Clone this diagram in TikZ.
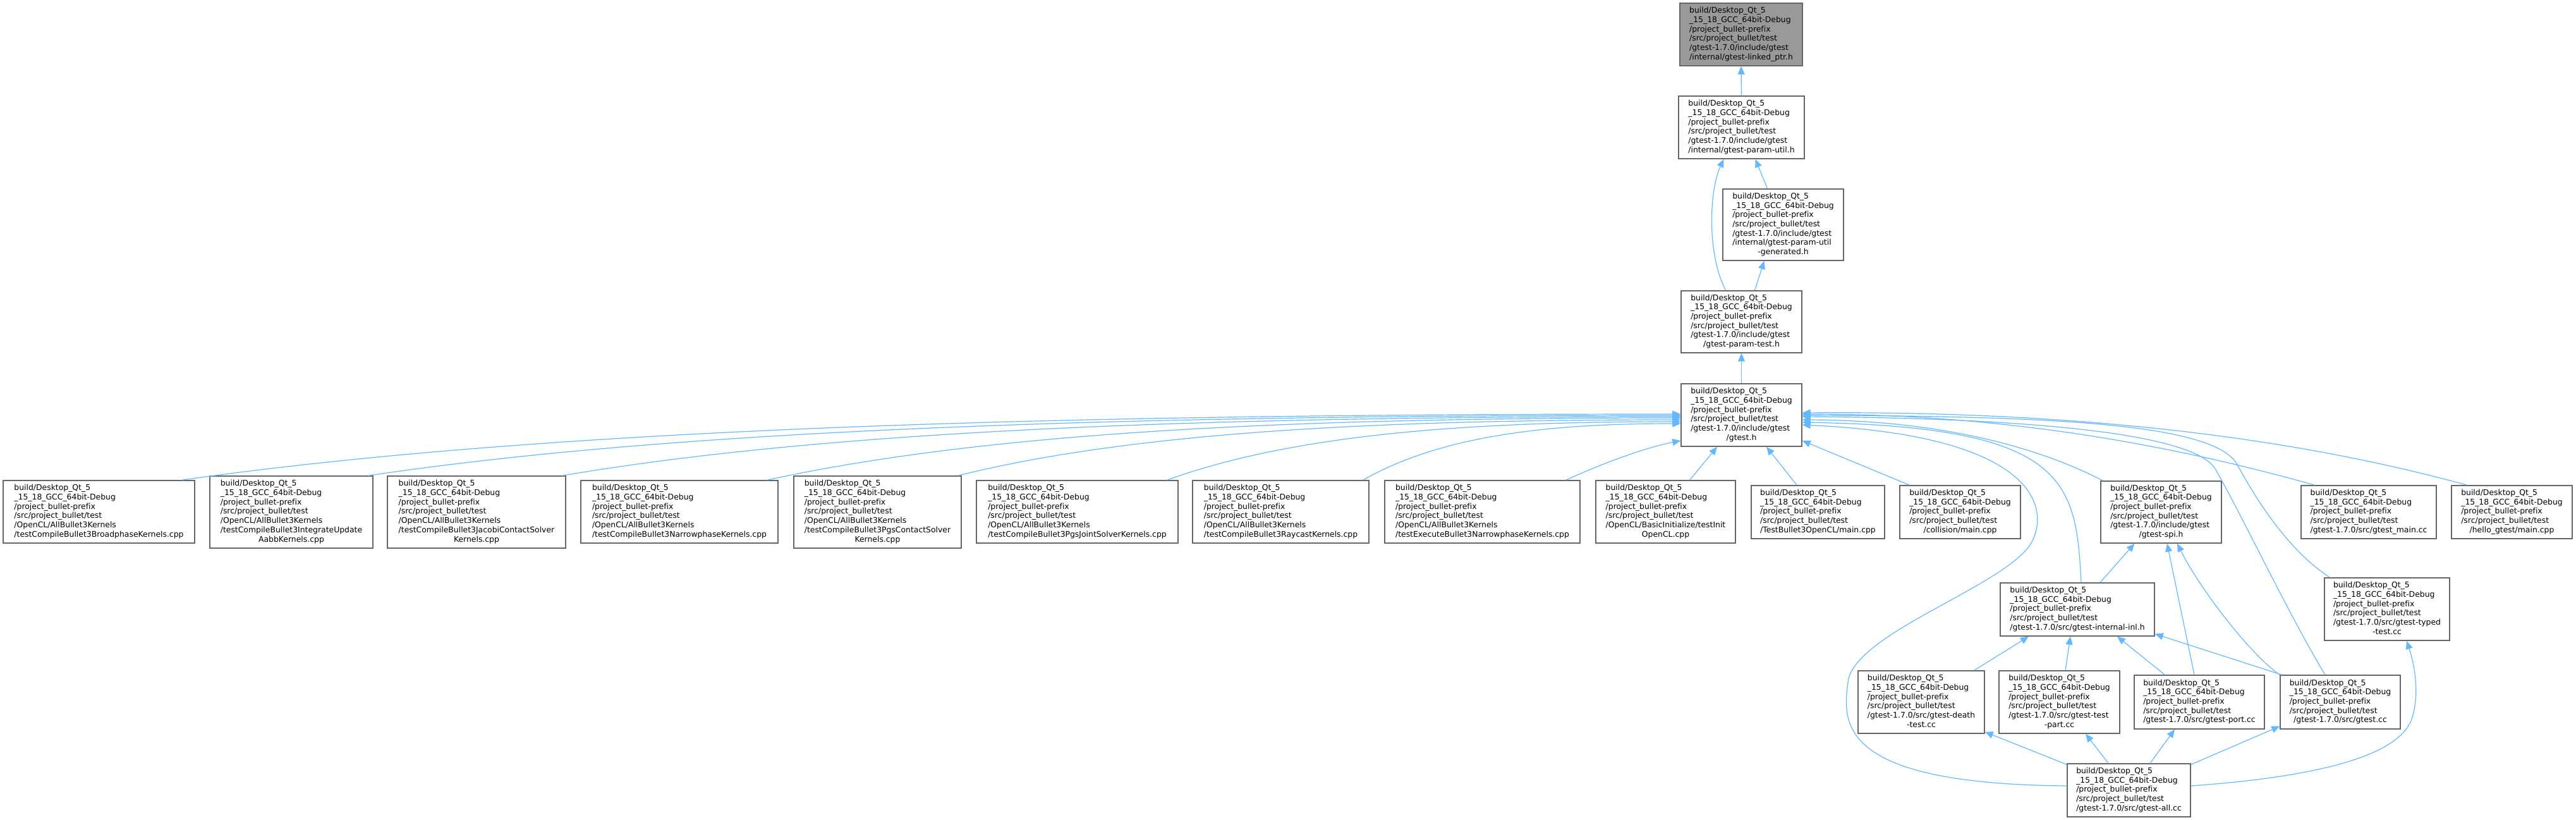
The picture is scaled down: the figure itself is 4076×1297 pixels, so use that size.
\documentclass[tikz,border=0pt]{standalone}
\usepackage{fontspec}
\setmainfont{DejaVu Sans}[Ligatures=CommonOff]
\usetikzlibrary{arrows.meta}
\definecolor{edgeblue}{HTML}{63B8FF}
\definecolor{boxgray}{HTML}{666666}
\definecolor{topgray}{HTML}{999999}
\newcommand\pfx{build/Desktop\_Qt\_5\\\_15\_18\_GCC\_64bit-Debug\\/project\_bullet-prefix\\/src/project\_bullet/test}
\newcommand\fl[2]{\begin{tabular}{@{}l@{}}#1\\\multicolumn{1}{@{}c@{}}{#2}\end{tabular}}
\newcommand\nodefont{\fontsize{12.4pt}{14.7pt}\selectfont}
\begin{document}
\begin{tikzpicture}[x=1pt,y=-1pt,
  box/.style={draw=boxgray,line width=1.4pt,fill=white,inner sep=0pt,font=\nodefont,text=black},
  edge/.style={draw=edgeblue,line width=1.2pt,-{Triangle[length=13pt,width=11pt]}}]
\fill[white] (0,0) rectangle (4076,1297);
\useasboundingbox (0,0) rectangle (4076,1297);

% upper chain
\node[box,fill=topgray,minimum width=194pt,minimum height=99pt] (n0) at (2755,54.5) {\fl{\pfx\\/gtest-1.7.0/include/gtest}{/internal/gtest-linked\_ptr.h}};
\node[box,minimum width=199pt,minimum height=99pt] (n1) at (2755.5,201.5) {\fl{\pfx\\/gtest-1.7.0/include/gtest}{/internal/gtest-param-util.h}};
\node[box,minimum width=191pt,minimum height=113pt] (n2) at (2821.5,355.5) {\fl{\pfx\\/gtest-1.7.0/include/gtest\\/internal/gtest-param-util}{-generated.h}};
\node[box,minimum width=191pt,minimum height=98pt] (n3) at (2755.5,509) {\fl{\pfx\\/gtest-1.7.0/include/gtest}{/gtest-param-test.h}};
\node[box,minimum width=191pt,minimum height=99pt] (n4) at (2755.5,656.5) {\fl{\pfx\\/gtest-1.7.0/include/gtest}{/gtest.h}};

% row of includers
\node[box,minimum width=303pt,minimum height=99pt] (b1) at (156.5,809.5) {\fl{\pfx\\/OpenCL/AllBullet3Kernels}{/testCompileBullet3BroadphaseKernels.cpp}};
\node[box,minimum width=258pt,minimum height=114pt] (b2) at (461,810) {\fl{\pfx\\/OpenCL/AllBullet3Kernels\\/testCompileBullet3IntegrateUpdate}{AabbKernels.cpp}};
\node[box,minimum width=282pt,minimum height=114pt] (b3) at (754,810) {\fl{\pfx\\/OpenCL/AllBullet3Kernels\\/testCompileBullet3JacobiContactSolver}{Kernels.cpp}};
\node[box,minimum width=312pt,minimum height=99pt] (b4) at (1075,809.5) {\fl{\pfx\\/OpenCL/AllBullet3Kernels}{/testCompileBullet3NarrowphaseKernels.cpp}};
\node[box,minimum width=265pt,minimum height=114pt] (b5) at (1388.5,810) {\fl{\pfx\\/OpenCL/AllBullet3Kernels\\/testCompileBullet3PgsContactSolver}{Kernels.cpp}};
\node[box,minimum width=319pt,minimum height=99pt] (b6) at (1704.5,809.5) {\fl{\pfx\\/OpenCL/AllBullet3Kernels}{/testCompileBullet3PgsJointSolverKernels.cpp}};
\node[box,minimum width=279pt,minimum height=99pt] (b7) at (2026.5,809.5) {\fl{\pfx\\/OpenCL/AllBullet3Kernels}{/testCompileBullet3RaycastKernels.cpp}};
\node[box,minimum width=309pt,minimum height=99pt] (b8) at (2345.5,809.5) {\fl{\pfx\\/OpenCL/AllBullet3Kernels}{/testExecuteBullet3NarrowphaseKernels.cpp}};
\node[box,minimum width=221pt,minimum height=99pt] (b9) at (2635.5,809.5) {\fl{\pfx\\/OpenCL/BasicInitialize/testInit}{OpenCL.cpp}};
\node[box,minimum width=211pt,minimum height=84pt] (b10) at (2876.5,810) {\fl{\pfx}{/TestBullet3OpenCL/main.cpp}};
\node[box,minimum width=191pt,minimum height=84pt] (b11) at (3101.5,810) {\fl{\pfx}{/collision/main.cpp}};
\node[box,minimum width=191pt,minimum height=98pt] (b12) at (3419.5,810) {\fl{\pfx\\/gtest-1.7.0/include/gtest}{/gtest-spi.h}};
\node[box,minimum width=214pt,minimum height=84pt] (b13) at (3748,810) {\fl{\pfx}{/gtest-1.7.0/src/gtest\_main.cc}};
\node[box,minimum width=191pt,minimum height=84pt] (b14) at (3974.5,810) {\fl{\pfx}{/hello\_gtest/main.cpp}};

% lower gtest sources
\node[box,minimum width=244pt,minimum height=84pt] (c1) at (3287,964) {\fl{\pfx}{/gtest-1.7.0/src/gtest-internal-inl.h}};
\node[box,minimum width=198pt,minimum height=99pt] (c2) at (3777,963.5) {\fl{\pfx\\/gtest-1.7.0/src/gtest-typed}{-test.cc}};
\node[box,minimum width=200pt,minimum height=99pt] (d1) at (3040,1110.5) {\fl{\pfx\\/gtest-1.7.0/src/gtest-death}{-test.cc}};
\node[box,minimum width=191pt,minimum height=99pt] (d2) at (3258.5,1110.5) {\fl{\pfx\\/gtest-1.7.0/src/gtest-test}{-part.cc}};
\node[box,minimum width=206pt,minimum height=85pt] (d3) at (3480,1110.5) {\fl{\pfx}{/gtest-1.7.0/src/gtest-port.cc}};
\node[box,minimum width=190pt,minimum height=85pt] (d4) at (3703,1110.5) {\fl{\pfx}{/gtest-1.7.0/src/gtest.cc}};
\node[box,minimum width=195pt,minimum height=84pt] (e1) at (3368.5,1250) {\fl{\pfx}{/gtest-1.7.0/src/gtest-all.cc}};

% upper edges
\draw[edge] (n1.north) -- (n0.south);
\draw[edge] ([xshift=-25pt]n2.north) -- ([xshift=22pt]n1.south);
\draw[edge] ([xshift=-25pt]n3.north) .. controls (2700,400) and (2705,300) .. ([xshift=-28pt]n1.south);
\draw[edge] ([xshift=21pt]n3.north) -- ([xshift=-30pt]n2.south);
\draw[edge] (n4.north) -- (n3.south);

% left fan into gtest.h
\draw[edge] ([xshift=-21pt]b1.north east) .. controls +(593,-84) and +(-949,0) .. ([yshift=1.5pt]n4.west);
\draw[edge] ([xshift=-8pt]b2.north east) .. controls +(518,-77) and +(-828,0) .. ([yshift=-0.5pt]n4.west);
\draw[edge] ([xshift=-6pt]b3.north east) .. controls +(443,-75) and +(-708,0) .. ([yshift=-2.5pt]n4.west);
\draw[edge] ([xshift=-18pt]b4.north east) .. controls +(362,-79) and +(-579,0) .. ([yshift=-4.5pt]n4.west);
\draw[edge] ([xshift=-6pt]b5.north east) .. controls +(286,-71) and +(-458,0) .. ([yshift=-7.5pt]n4.west);
\draw[edge] ([xshift=-18pt]b6.north east) .. controls +(204,-74) and +(-326,0) .. ([yshift=-10.5pt]n4.west);
\draw[edge] ([xshift=-10pt]b7.north east) .. controls +(126,-72) and +(-202,0) .. ([yshift=-13.5pt]n4.west);
\draw[edge] ([xshift=-23pt]b8.north east) .. controls +(55,-25) and +(-60,12) .. ([yshift=-40.5pt]n4.west);
\draw[edge] ([xshift=-73pt]b9.north east) -- ([xshift=-38.5pt]n4.south);
\draw[edge] ([xshift=-33.5pt]b10.north) -- ([xshift=39.5pt]n4.south);
\draw[edge] ([xshift=16pt]b11.north west) -- ([yshift=-40.5pt]n4.east);

% right fan into gtest.h
\draw[edge] ([xshift=6pt]c1.north) .. controls (3285,760) and (3270,675) .. ([yshift=-11.5pt]n4.east);
\draw[edge] ([yshift=7pt]e1.west) .. controls (2900,1240) and (2915,1140) .. (2925,1073) .. controls (2945,1000) and (3160,930) .. (3210,865) .. controls (3245,815) and (3240,690) .. ([yshift=-15.5pt]n4.east);
\draw[edge] ([xshift=4pt]b12.north west) .. controls (3250,720) and (3100,665) .. ([yshift=-7.5pt]n4.east);
\draw[edge] ([xshift=-24pt]d4.north) .. controls (3620,970) and (3540,800) .. (3504,740) .. controls (3470,690) and (3250,662) .. ([yshift=-2.5pt]n4.east);
\draw[edge] ([xshift=9pt]c2.north west) .. controls (3620,870) and (3570,790) .. (3540,735) .. controls (3505,670) and (3250,658) .. ([yshift=-0.5pt]n4.east);
\draw[edge] ([xshift=22pt]b13.north west) .. controls (3413,697) and (3150,655) .. ([yshift=1.5pt]n4.east);
\draw[edge] ([xshift=25pt]b14.north west) .. controls (3604,685) and (3251,650) .. ([yshift=3.5pt]n4.east);

% lower edges
\draw[edge] ([xshift=-17pt]d1.north east) -- ([xshift=-77pt]c1.south);
\draw[edge] ([xshift=9.5pt]d2.north) -- ([xshift=-11pt]c1.south);
\draw[edge] ([xshift=49pt]d3.north west) -- ([xshift=63pt]c1.south);
\draw[edge] ([xshift=3pt]d4.north west) -- ([yshift=4pt]c1.south east);
\draw[edge] ([xshift=36pt]c1.north) -- ([xshift=-42pt]b12.south);
\draw[edge] ([xshift=-8pt]d3.north) -- ([xshift=9.5pt]b12.south);
\draw[edge] (d4.north west) .. controls (3560,1035) and (3480,930) .. ([xshift=25.5pt]b12.south);
\draw[edge] ([yshift=-2pt]e1.north west) -- ([yshift=3pt]d1.south east);
\draw[edge] ([xshift=-32.5pt]e1.north) -- ([xshift=41.5pt]d2.south);
\draw[edge] ([xshift=33.5pt]e1.north) -- ([xshift=-39pt]d3.south);
\draw[edge] ([yshift=-2pt]e1.north east) -- ([yshift=5pt]d4.south west);
\draw[edge] ([yshift=7pt]e1.east) .. controls (3650,1230) and (3790,1200) .. (3815,1140) .. controls (3830,1100) and (3820,1050) .. ([xshift=31pt]c2.south);
\end{tikzpicture}
\end{document}
